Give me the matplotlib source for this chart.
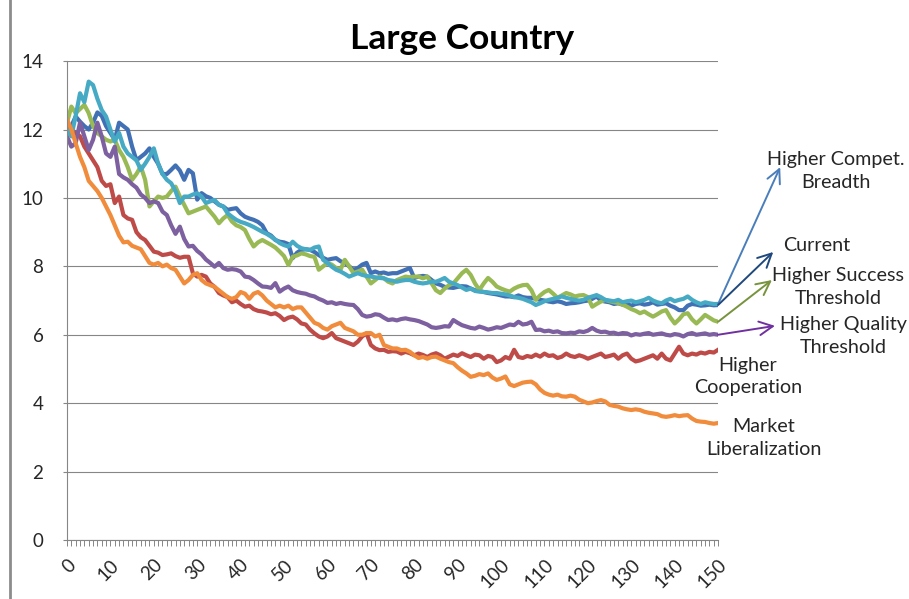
import matplotlib.pyplot as plt
import matplotlib.transforms as mtransforms
from matplotlib.lines import Line2D

# x axis: simulation period 0..150
periods = list(range(151))

current = [
    11.9, 12.1, 12.38, 12.23, 12.1, 12.0, 12.2, 12.5, 12.4, 12.1,
    11.9, 11.7, 12.2, 12.1, 12.0, 11.5, 11.1, 11.2, 11.3, 11.45,
    11.2, 11.0, 10.7, 10.7, 10.82, 10.95, 10.8, 10.53, 10.82, 10.72,
    9.95, 10.14, 10.05, 10.0, 9.9, 9.8, 9.75, 9.65, 9.68, 9.7,
    9.55, 9.45, 9.4, 9.36, 9.3, 9.2, 8.97, 8.9, 8.77, 8.72,
    8.7, 8.65, 8.24, 8.4, 8.48, 8.5, 8.48, 8.42, 8.33, 8.25,
    8.19, 8.22, 8.24, 8.15, 8.1, 8.0, 7.9, 7.95, 8.05, 8.1,
    7.8, 7.85, 7.8, 7.82, 7.78, 7.8, 7.8, 7.85, 7.9, 7.95,
    7.66, 7.7, 7.72, 7.7, 7.6, 7.5, 7.46, 7.4, 7.38, 7.37,
    7.4, 7.42, 7.41, 7.35, 7.3, 7.28, 7.25, 7.22, 7.2, 7.18,
    7.15, 7.12, 7.12, 7.1, 7.15, 7.1, 7.08, 7.08, 7.05, 7.02,
    7.0, 6.97, 6.95, 6.98, 6.95, 6.9, 6.92, 6.93, 6.95, 6.98,
    7.0, 7.05, 7.12, 7.0, 6.97, 6.95, 6.9, 6.92, 6.88, 6.9,
    6.85, 6.9, 6.92, 6.88, 6.9, 6.95, 6.88, 6.9, 6.92, 6.85,
    6.8, 6.72, 6.72, 6.85, 6.9, 6.88, 6.85, 6.86, 6.88, 6.86,
    6.87,
]

cooperation = [
    12.2, 12.0, 11.9, 11.8, 11.5, 11.3, 11.1, 10.9, 10.5, 10.35,
    10.4, 9.85, 10.04, 9.5, 9.4, 9.36, 9.0, 8.85, 8.77, 8.6,
    8.43, 8.4, 8.33, 8.35, 8.38, 8.3, 8.25, 8.28, 8.28, 7.8,
    7.7, 7.75, 7.7, 7.5, 7.4, 7.22, 7.15, 7.1, 6.95, 7.0,
    6.9, 6.82, 6.85, 6.75, 6.7, 6.68, 6.65, 6.6, 6.63, 6.55,
    6.43, 6.5, 6.53, 6.45, 6.33, 6.3, 6.15, 6.04, 5.95, 5.9,
    5.95, 6.05, 5.9, 5.85, 5.8, 5.75, 5.7, 5.8, 5.95, 6.04,
    5.7, 5.6, 5.55, 5.56, 5.5, 5.52, 5.51, 5.45, 5.5, 5.46,
    5.4, 5.45, 5.41, 5.35, 5.42, 5.46, 5.4, 5.3, 5.36, 5.42,
    5.38, 5.46, 5.4, 5.35, 5.42, 5.4, 5.3, 5.38, 5.35, 5.2,
    5.25, 5.35, 5.3, 5.56, 5.35, 5.32, 5.38, 5.35, 5.42, 5.36,
    5.45, 5.38, 5.4, 5.32, 5.36, 5.45, 5.38, 5.35, 5.4, 5.36,
    5.3, 5.35, 5.4, 5.45, 5.35, 5.38, 5.42, 5.3, 5.4, 5.45,
    5.3, 5.22, 5.25, 5.3, 5.35, 5.4, 5.3, 5.45, 5.3, 5.25,
    5.45, 5.65, 5.45, 5.4, 5.45, 5.42, 5.48, 5.45, 5.5, 5.48,
    5.56,
]

success = [
    12.2, 12.67, 12.48, 12.6, 12.72, 12.48, 12.1, 11.9, 11.8, 11.7,
    11.65, 11.7, 11.4, 11.2, 10.9, 10.53, 10.7, 10.92, 10.53, 9.75,
    9.9, 10.04, 10.0, 10.04, 10.2, 10.33, 10.04, 9.8, 9.55, 9.6,
    9.65, 9.7, 9.75, 9.6, 9.45, 9.26, 9.4, 9.5, 9.31, 9.2,
    9.15, 9.06, 8.8, 8.58, 8.7, 8.77, 8.7, 8.63, 8.55, 8.43,
    8.3, 8.04, 8.28, 8.32, 8.38, 8.35, 8.3, 8.28, 7.9, 8.0,
    8.1, 8.05, 7.95, 7.9, 8.19, 8.0, 7.8, 7.85, 7.9, 7.7,
    7.5, 7.6, 7.7, 7.65, 7.55, 7.5, 7.6, 7.65, 7.7, 7.68,
    7.7, 7.7, 7.65, 7.7, 7.5, 7.3, 7.22, 7.35, 7.45, 7.5,
    7.65, 7.8, 7.9, 7.75, 7.5, 7.31, 7.5, 7.66, 7.55, 7.41,
    7.35, 7.3, 7.26, 7.35, 7.41, 7.45, 7.46, 7.3, 7.02, 7.15,
    7.25, 7.31, 7.2, 7.08, 7.15, 7.22, 7.18, 7.12, 7.15, 7.16,
    7.1, 6.82, 6.9, 6.97, 7.02, 6.98, 6.95, 6.93, 6.88, 6.82,
    6.75, 6.7, 6.63, 6.68, 6.6, 6.53, 6.6, 6.68, 6.72, 6.5,
    6.33, 6.45, 6.6, 6.63, 6.45, 6.33, 6.45, 6.58, 6.5, 6.42,
    6.38,
]

quality = [
    11.8, 11.5, 11.6, 12.2, 11.8, 11.4, 11.7, 12.2, 11.8, 11.3,
    11.2, 11.5, 10.7, 10.6, 10.53, 10.4, 10.3, 10.1, 10.0, 9.85,
    9.9, 9.85, 9.6, 9.5, 9.2, 8.95, 9.16, 8.8, 8.58, 8.6,
    8.45, 8.35, 8.2, 8.1, 7.99, 8.1, 7.95, 7.9, 7.92, 7.9,
    7.85, 7.7, 7.68, 7.6, 7.5, 7.41, 7.4, 7.37, 7.51, 7.26,
    7.35, 7.41, 7.3, 7.25, 7.22, 7.2, 7.15, 7.12, 7.05, 7.0,
    6.93, 6.95, 6.9, 6.93, 6.9, 6.88, 6.87, 6.75, 6.58, 6.53,
    6.55, 6.6, 6.58, 6.5, 6.43, 6.45, 6.42, 6.46, 6.48, 6.45,
    6.43, 6.4, 6.35, 6.3, 6.22, 6.2, 6.22, 6.25, 6.24, 6.43,
    6.35, 6.28, 6.24, 6.2, 6.18, 6.24, 6.2, 6.15, 6.18, 6.22,
    6.2, 6.25, 6.3, 6.28, 6.38, 6.3, 6.32, 6.38, 6.14, 6.15,
    6.1, 6.12, 6.08, 6.1, 6.05, 6.04, 6.06, 6.05, 6.1, 6.08,
    6.12, 6.2, 6.12, 6.08, 6.09, 6.05, 6.06, 6.02, 6.05, 6.04,
    5.98, 6.02, 6.0, 6.03, 6.05, 6.0, 6.02, 6.04, 6.0, 5.98,
    6.02, 6.0, 5.95, 6.02, 6.05, 6.0, 6.02, 6.04, 6.0, 6.02,
    6.0,
]

breadth = [
    12.0, 11.8, 12.4, 13.06, 12.8, 13.4, 13.3, 12.9, 12.57, 12.38,
    12.0, 11.65, 11.9, 11.5, 11.3, 11.2, 11.1, 10.82, 11.0, 11.2,
    11.45, 11.0, 10.7, 10.53, 10.43, 10.2, 9.85, 10.04, 10.04, 10.1,
    10.14, 10.04, 9.85, 9.9, 9.94, 9.8, 9.75, 9.55, 9.45, 9.36,
    9.3, 9.26, 9.21, 9.15, 9.08, 9.01, 8.95, 8.87, 8.78, 8.68,
    8.62, 8.58, 8.72, 8.6, 8.53, 8.5, 8.48, 8.55, 8.58, 8.19,
    8.1, 7.99, 7.9, 7.85, 7.78, 7.7, 7.75, 7.8, 7.75, 7.72,
    7.7, 7.68, 7.66, 7.65, 7.6, 7.58, 7.55, 7.58, 7.6, 7.6,
    7.55, 7.52, 7.5, 7.52, 7.55, 7.55, 7.6, 7.66, 7.55, 7.5,
    7.45, 7.38, 7.31, 7.35, 7.28, 7.26, 7.25, 7.24, 7.22, 7.22,
    7.2, 7.18, 7.15, 7.1, 7.08, 7.05, 7.0, 6.95, 6.87, 6.92,
    6.98, 7.02, 7.05, 7.08, 7.12, 7.08, 7.05, 7.02, 7.0, 7.02,
    7.08, 7.12, 7.16, 7.1, 7.02, 7.0, 6.98, 7.02, 6.95, 6.98,
    7.0, 6.95, 6.98, 7.02, 7.08, 7.0, 6.95, 6.92, 7.0, 7.05,
    6.98, 7.02, 7.05, 7.12, 7.02, 6.95, 6.9, 6.95, 6.92, 6.9,
    6.9,
]

liberalization = [
    12.3, 12.0, 11.6, 11.2, 10.9, 10.5, 10.35, 10.2, 10.0, 9.75,
    9.5, 9.2, 8.9, 8.7, 8.72, 8.6, 8.55, 8.5, 8.3, 8.1,
    8.05, 8.1, 8.0, 8.05, 7.95, 7.9, 7.7, 7.5, 7.6, 7.75,
    7.8, 7.6, 7.5, 7.45, 7.4, 7.3, 7.2, 7.1, 7.05, 7.1,
    7.25, 7.2, 7.05, 7.2, 7.25, 7.15, 7.0, 6.9, 6.8, 6.85,
    6.8, 6.85, 6.75, 6.8, 6.8, 6.65, 6.5, 6.35, 6.3, 6.2,
    6.15, 6.25, 6.3, 6.35, 6.2, 6.15, 6.1, 6.0, 6.0, 6.05,
    6.05, 5.95, 6.0, 5.7, 5.65, 5.6, 5.6, 5.55, 5.56, 5.5,
    5.4, 5.32, 5.35, 5.3, 5.35, 5.36, 5.3, 5.25, 5.2, 5.17,
    5.05, 4.95, 4.87, 4.77, 4.8, 4.85, 4.82, 4.87, 4.75, 4.68,
    4.72, 4.78, 4.55, 4.5, 4.55, 4.6, 4.62, 4.63, 4.55, 4.4,
    4.3, 4.25, 4.22, 4.25, 4.2, 4.19, 4.22, 4.19, 4.1, 4.05,
    4.0, 4.02, 4.06, 4.09, 4.05, 3.95, 3.92, 3.9, 3.85, 3.82,
    3.8, 3.82, 3.8, 3.75, 3.72, 3.7, 3.68, 3.62, 3.6, 3.62,
    3.65, 3.62, 3.64, 3.65, 3.55, 3.48, 3.46, 3.45, 3.42, 3.4,
    3.42,
]

y_ticks = [0, 2, 4, 6, 8, 10, 12, 14]
x_ticks = list(range(0, 151, 10))

FONT = ['Lato', 'DejaVu Sans']
TEXT = '#262626'
GRID = '#868686'
LW = 3.0


def draw_series(ax):
    # same order as the spreadsheet so later series sit on top
    ax.plot(periods, current, color='#4170B5', lw=LW)
    ax.plot(periods, cooperation, color='#BE4B48', lw=LW)
    ax.plot(periods, success, color='#98B954', lw=LW)
    ax.plot(periods, quality, color='#7D60A0', lw=LW)
    ax.plot(periods, breadth, color='#46AAC5', lw=LW)
    ax.plot(periods, liberalization, color='#F08C3C', lw=LW)


def draw_labels(ax):
    arrows = [
        (breadth[-1], (164.3, 10.9), '#4A7EBB'),
        (current[-1], (162.7, 8.42), '#1F497D'),
        (success[-1], (162.4, 7.6), '#77933C'),
        (quality[-1], (163.1, 6.26), '#7030A0'),
    ]
    for y0, end, col in arrows:
        ax.annotate('', xy=end, xytext=(periods[-1], y0), annotation_clip=False,
                    arrowprops=dict(arrowstyle='->,head_length=0.7,head_width=0.35',
                                    color=col, lw=1.4, shrinkA=0, shrinkB=0,
                                    mutation_scale=14))

    labels = [
        ('Higher Compet.\nBreadth', 177.2, 10.79),
        ('Current', 172.6, 8.6),
        ('Higher Success\nThreshold', 177.6, 7.4),
        ('Higher Quality\nThreshold', 178.8, 5.96),
        ('Higher\nCooperation', 156.9, 4.78),
        ('Market\nLiberalization', 160.6, 2.98),
    ]
    for txt, x, y in labels:
        ax.text(x, y, txt, ha='center', va='center', fontsize=14.2,
                family=FONT, color=TEXT, linespacing=1.38, clip_on=False)


def plot():
    fig = plt.figure(figsize=(9.09, 5.99), dpi=100)
    ax = fig.add_axes([0.0737, 0.0985, 0.7163, 0.7995])

    ax.set_xlim(0, 150)
    ax.set_ylim(0, 14)
    ax.set_yticks(y_ticks)
    ax.set_xticks(x_ticks)
    ax.set_xticks(periods, minor=True)
    ax.grid(axis='y', color=GRID, lw=0.8)
    ax.set_axisbelow(True)

    for side in ['top', 'right']:
        ax.spines[side].set_visible(False)
    for side in ['left', 'bottom']:
        ax.spines[side].set_color(GRID)
        ax.spines[side].set_linewidth(0.8)

    ax.tick_params(axis='y', length=3, color=GRID, pad=14, labelsize=13.5,
                   labelcolor=TEXT)
    ax.tick_params(axis='x', which='both', length=4, color=GRID, width=0.7)
    ax.tick_params(axis='x', pad=12, labelsize=13.5, labelcolor=TEXT)
    for lab in ax.get_yticklabels() + ax.get_xticklabels():
        lab.set_family(FONT)
    # nudge the slanted labels so their ends sit just right of the tick
    shift = mtransforms.ScaledTranslation(6 / 100, 0, fig.dpi_scale_trans)
    for lab in ax.get_xticklabels():
        lab.set_rotation(45)
        lab.set_ha('right')
        lab.set_va('center')
        lab.set_rotation_mode('anchor')
        lab.set_transform(lab.get_transform() + shift)

    draw_series(ax)
    draw_labels(ax)

    fig.text(0.508, 0.935, 'Large Country', ha='center', va='center',
             fontsize=25.5, fontweight='bold', family=FONT, color='black')
    fig.add_artist(Line2D([0.0105, 0.0105], [0, 1], color='#8C8C8C', lw=2))

    fig.savefig('out.png', dpi=100)


if __name__ == '__main__':
    plot()
